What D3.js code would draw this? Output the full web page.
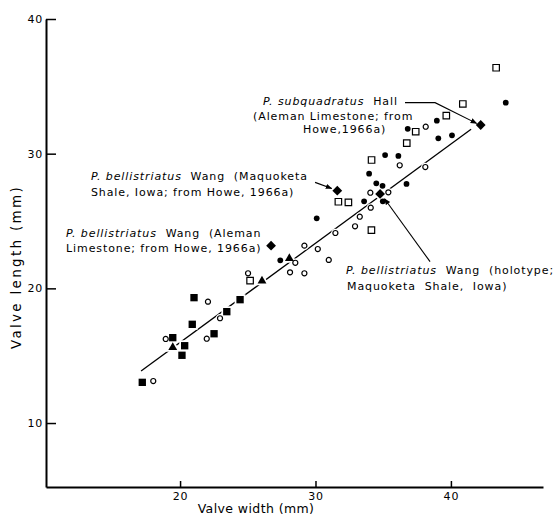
<!DOCTYPE html>
<html><head><meta charset="utf-8">
<script src="https://cdn.jsdelivr.net/npm/d3@7"></script>
<style>
body{margin:0;background:#fff;}
svg{display:block;font-family:"DejaVu Sans",sans-serif;}
</style></head><body>
<svg id="chart" width="557" height="516"></svg>
<script>
// ---- data ----
const xTicks = [20, 30, 40];
const yTicks = [10, 20, 30, 40];
const xTitle = "Valve width (mm)";
const yTitle = "Valve length (mm)";

const filledSquares = [[17.21,13.02],[19.46,16.34],[20.34,15.74],[20.14,15.03],[20.9,17.33],[21.03,19.31],[22.51,16.63],[23.45,18.27],[24.43,19.16]];
const openCircles = [[18.02,13.12],[18.94,16.24],[21.97,16.26],[22.06,19.01],[22.95,17.78],[25.02,21.12],[28.12,21.19],[28.51,21.9],[29.18,21.12],[29.18,23.17],[30.17,22.92],[30.98,22.11],[31.47,24.11],[32.92,24.61],[33.27,25.32],[34.08,25.99],[34.05,27.1],[35.38,27.13],[36.22,29.14],[38.11,29.01],[38.14,32.0]];
const filledCircles = [[27.4,22.08],[30.09,25.2],[33.59,26.46],[34.97,26.46],[33.96,28.51],[34.49,27.8],[34.95,27.61],[36.72,27.75],[35.14,29.9],[36.12,29.83],[36.81,31.85],[38.96,32.45],[39.07,31.14],[40.08,31.36],[44.05,33.79]];
const openSquares = [[25.17,20.57],[31.69,26.43],[32.43,26.39],[34.13,24.33],[34.14,29.53],[36.74,30.78],[37.4,31.63],[39.66,32.82],[40.88,33.69],[43.34,36.38]];
const triangles = [[19.46,15.62],[26.05,20.55],[28.07,22.22]];
const diamonds = [[26.72,23.17],[31.61,27.25],[34.77,27.01],[42.2,32.13]];
const fitLine = [[17.12,13.86],[41.49,31.81]];

const annotations = [
  {lines:[["P. subquadratus","  Hall",26.13,33.61],["","(Aleman Limestone; from",25.39,32.5],["","Howe,1966a)",29.08,31.54]],
   leader:[[36.61,33.79],[38.83,33.79],[41.9,32.25]]},
  {lines:[["P. bellistriatus","  Wang  (Maquoketa",13.42,28.05],["","Shale, Iowa; from Howe, 1966a)",13.42,26.89]],
   leader:[[29.97,27.87],[31.2,27.42]]},
  {lines:[["P. bellistriatus","  Wang  (Aleman",11.58,23.81],["","Limestone; from Howe, 1966a)",11.58,22.70]],
   leader:null},
  {lines:[["P. bellistriatus","  Wang  (holotype;",32.26,21.10],["","Maquoketa  Shale,  Iowa)",32.33,19.88]],
   leader:[[38.46,21.98],[35.1,26.65]]}
];

// ---- chart ----
const x = d3.scaleLinear().domain([10.1, 46.8]).range([46, 543]);
const y = d3.scaleLinear().domain([5.25, 40]).range([487, 19]);
const svg = d3.select('#chart');
const FONT = '"DejaVu Sans",sans-serif';

svg.append('defs').append('marker')
  .attr('id','arr').attr('viewBox','0 0 10 10').attr('refX',9).attr('refY',5)
  .attr('markerWidth',6).attr('markerHeight',6).attr('orient','auto')
  .append('path').attr('d','M0,1L10,5L0,9Z').attr('fill','#000');

const gx = svg.append('g').attr('transform', `translate(0,${y.range()[0]})`)
  .call(d3.axisBottom(x).tickValues(xTicks).tickSizeInner(-6).tickSizeOuter(0).tickPadding(5).tickFormat(d3.format('d')));
gx.attr('font-family', FONT).attr('font-size', 11);
gx.select('.domain').attr('stroke-width', 2);
gx.selectAll('.tick line').attr('stroke-width', 1.5);
gx.selectAll('.tick text').attr('letter-spacing', 0.8);

const gy = svg.append('g').attr('transform', `translate(${x.range()[0]},0)`)
  .call(d3.axisLeft(y).tickValues(yTicks).tickSizeInner(-10).tickSizeOuter(0).tickPadding(3).tickFormat(d3.format('d')));
gy.attr('font-family', FONT).attr('font-size', 11);
gy.select('.domain').attr('stroke-width', 2);
gy.selectAll('.tick line').attr('stroke-width', 1.5);
gy.selectAll('.tick text').attr('letter-spacing', 0.8);

svg.append('text').attr('x', 256).attr('y', 513).attr('text-anchor','middle')
  .attr('font-size', 12.5).attr('letter-spacing', 0.4).text(xTitle);
svg.append('text').attr('transform', `translate(21,${(y.range()[0]+y.range()[1])/2 + 14}) rotate(-90)`)
  .attr('text-anchor','middle').attr('font-size', 13.5).attr('letter-spacing', 2.3).text(yTitle);

// regression line
svg.append('line')
  .attr('x1', x(fitLine[0][0])).attr('y1', y(fitLine[0][1]))
  .attr('x2', x(fitLine[1][0])).attr('y2', y(fitLine[1][1]))
  .attr('stroke', '#000').attr('stroke-width', 1.3);

const sets = [
  {data: openCircles, sym: d3.symbolCircle, size: 20, fill:'#fff', stroke:'#000', sw:1.2, rot:0},
  {data: openSquares, sym: d3.symbolSquare, size: 42, fill:'#fff', stroke:'#000', sw:1.2, rot:0},
  {data: filledCircles, sym: d3.symbolCircle, size: 26, fill:'#000', stroke:'none', sw:0, rot:0},
  {data: filledSquares, sym: d3.symbolSquare, size: 54, fill:'#000', stroke:'none', sw:0, rot:0},
  {data: triangles, sym: d3.symbolTriangle, size: 34, fill:'#000', stroke:'none', sw:0, rot:0},
  {data: diamonds, sym: d3.symbolSquare, size: 48, fill:'#000', stroke:'none', sw:0, rot:45}
];
// white halos
const halo = svg.append('g');
sets.forEach(s => {
  halo.selectAll(null).data(s.data).enter().append('path')
    .attr('d', d3.symbol(s.sym, s.size)())
    .attr('transform', d => `translate(${x(d[0])},${y(d[1])}) rotate(${s.rot})`)
    .attr('fill','#fff').attr('stroke','#fff').attr('stroke-width', 3.5);
});
const marks = svg.append('g');
sets.forEach(s => {
  marks.selectAll(null).data(s.data).enter().append('path')
    .attr('d', d3.symbol(s.sym, s.size)())
    .attr('transform', d => `translate(${x(d[0])},${y(d[1])}) rotate(${s.rot})`)
    .attr('fill', s.fill).attr('stroke', s.stroke).attr('stroke-width', s.sw);
});

// annotations
const ag = svg.append('g').attr('font-size', 11).attr('letter-spacing', 0.9);
annotations.forEach(a => {
  a.lines.forEach(l => {
    const t = ag.append('text').attr('x', x(l[2])).attr('y', y(l[3])).attr('xml:space','preserve');
    if (l[0]) t.append('tspan').attr('font-style','italic').text(l[0]);
    t.append('tspan').text(l[1]);
  });
  if (a.leader) {
    ag.append('path').attr('d', d3.line().x(d => x(d[0])).y(d => y(d[1]))(a.leader))
      .attr('fill','none').attr('stroke','#000').attr('stroke-width',1.1).attr('marker-end','url(#arr)');
  }
});
</script></body></html>
